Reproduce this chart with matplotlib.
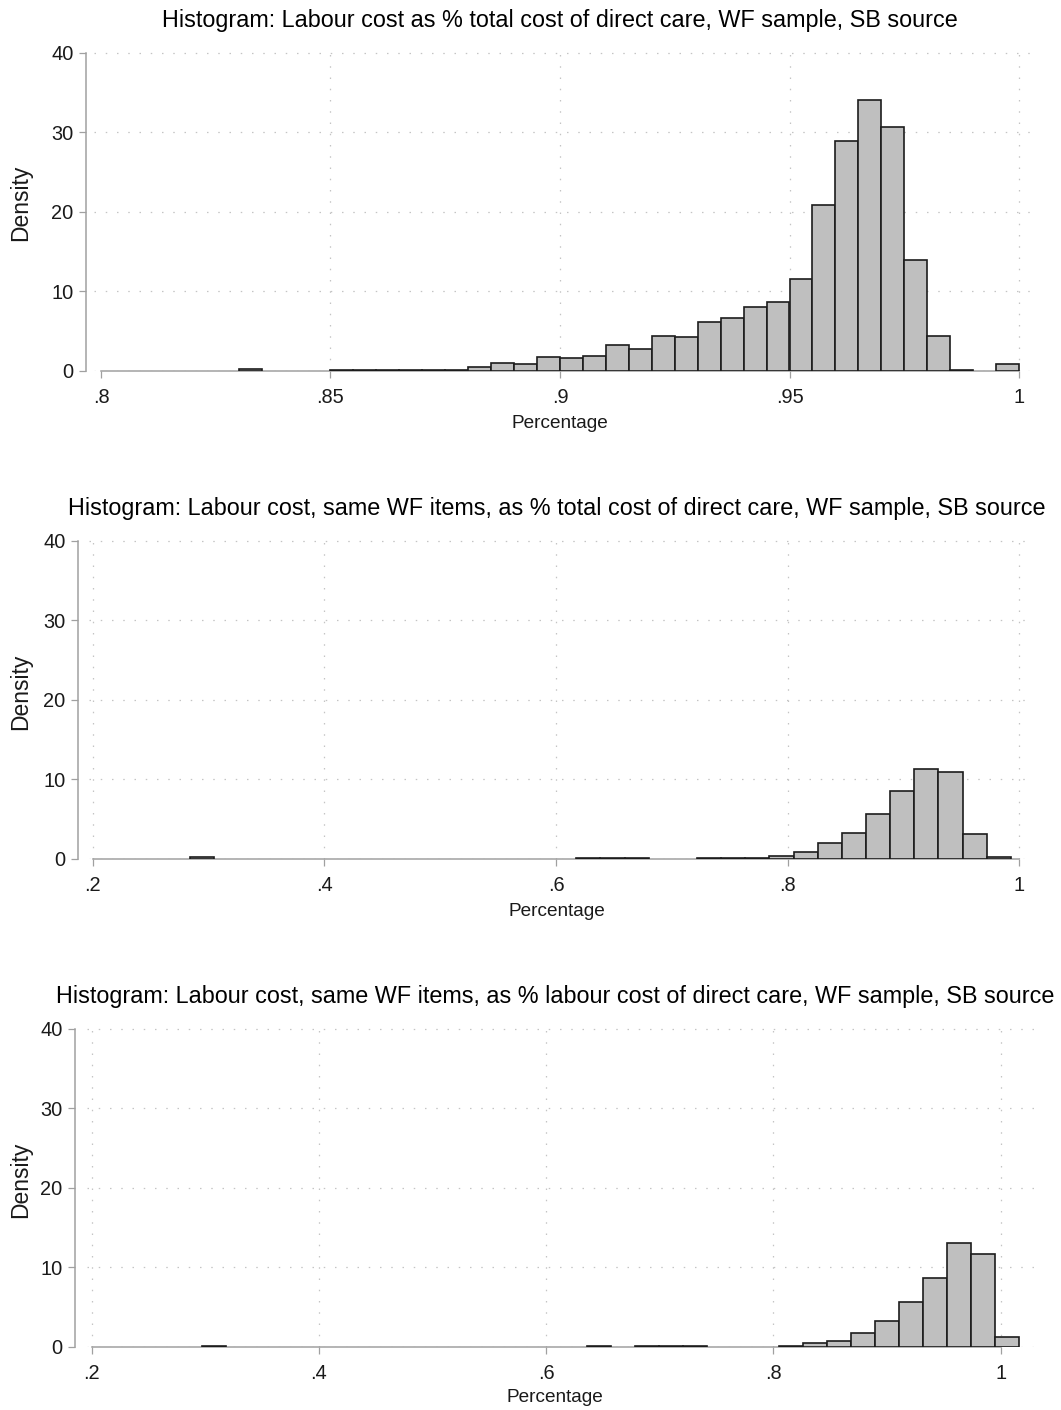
import numpy as np
import matplotlib
matplotlib.use("Agg")
import matplotlib.pyplot as plt

plt.rcParams['font.family'] = ['Liberation Sans', 'DejaVu Sans']

# ---------------------------------------------------------------- data
titles = [
    "Histogram: Labour cost as % total cost of direct care, WF sample, SB source",
    "Histogram: Labour cost, same WF items, as % total cost of direct care, WF sample, SB source",
    "Histogram: Labour cost, same WF items, as % labour cost of direct care, WF sample, SB source",
]
x_title = "Percentage"
y_title = "Density"

# Panel 1: 34 bins of width .005 starting at .83
bin_start_1 = 0.83
bin_width_1 = 0.005
density_1 = [0.15, 0, 0, 0, 0.05, 0.05, 0.05, 0.05, 0.12, 0.12,
             0.42, 0.92, 0.76, 1.68, 1.55, 1.80, 3.19, 2.73, 4.36, 4.24,
             6.08, 6.67, 7.97, 8.64, 11.54, 20.81, 28.87, 34.07, 30.72, 13.97,
             4.36, 0.08, 0, 0.80]

# Panel 2: 34 bins
bin_start_2 = 0.2841
bin_width_2 = 0.02084
density_2 = [0.2, 0, 0, 0, 0, 0, 0, 0, 0, 0,
             0, 0, 0, 0, 0, 0, 0.05, 0.05, 0.05, 0,
             0, 0.05, 0.05, 0.12, 0.30, 0.81, 1.96, 3.19, 5.66, 8.51,
             11.32, 10.94, 3.06, 0.13]

# Panel 3: 34 bins
bin_start_3 = 0.2974
bin_width_3 = 0.02115
density_3 = [0.03, 0, 0, 0, 0, 0, 0, 0, 0, 0,
             0, 0, 0, 0, 0, 0, 0.03, 0, 0.03, 0.03,
             0.03, 0, 0, 0, 0.10, 0.38, 0.72, 1.65, 3.21, 5.65,
             8.65, 13.04, 11.65, 1.14]

xticks_1 = [0.8, 0.85, 0.9, 0.95, 1.0]
xticklabels_1 = [".8", ".85", ".9", ".95", "1"]
xticks_23 = [0.2, 0.4, 0.6, 0.8, 1.0]
xticklabels_23 = [".2", ".4", ".6", ".8", "1"]
yticks = [0, 10, 20, 30, 40]
yticklabels = ["0", "10", "20", "30", "40"]

# ---------------------------------------------------------------- layout (pixels)
W, H = 1061, 1410
panels = [
    dict(start=bin_start_1, width=bin_width_1, dens=density_1,
         xt=xticks_1, xtl=xticklabels_1, grid_first=False,
         xmap=((0.8, 101.0), (1.0, 1019.0)), L=94, R=1035, y0=370.5, y40=53.0, top=45,
         spine=86, title_xy=(560, 21), xlab_xy=(560, 423), ylab_xy=(21, 203)),
    dict(start=bin_start_2, width=bin_width_2, dens=density_2,
         xt=xticks_23, xtl=xticklabels_23, grid_first=True,
         xmap=((0.2, 92.7), (1.0, 1019.3)), L=89, R=1033, y0=858.5, y40=541.0, top=533,
         spine=78, title_xy=(556.5, 509), xlab_xy=(557, 911), ylab_xy=(21, 692)),
    dict(start=bin_start_3, width=bin_width_3, dens=density_3,
         xt=xticks_23, xtl=xticklabels_23, grid_first=True,
         xmap=((0.2, 91.7), (1.0, 1000.7)), L=87, R=1035, y0=1346.5, y40=1029.0, top=1021,
         spine=75, title_xy=(555.5, 997), xlab_xy=(555, 1398), ylab_xy=(21, 1180)),
]

BAR_FILL = "#bfbfbf"
BAR_EDGE = "#1c1c1c"
AXIS_COL = "#a0a0a0"
GRID_COL = "#c4c4c4"
TEXT_COL = "#1a1a1a"

fig = plt.figure(figsize=(W / 100, H / 100), dpi=100)
fig.patch.set_facecolor("white")


def fx(px):
    return px / W


def fy(py):
    return 1 - py / H


for p, title in zip(panels, titles):
    L, R, top, y0, y40 = p["L"], p["R"], p["top"], p["y0"], p["y40"]
    ax = fig.add_axes([fx(L), fy(y0), (R - L) / W, (y0 - top) / H])

    (v1, px1), (v2, px2) = p["xmap"]
    scale = (px2 - px1) / (v2 - v1)
    ax.set_xlim(v1 - (px1 - L) / scale, v1 + (R - px1) / scale)
    ax.set_ylim(0, 40 * (y0 - top) / (y0 - y40))

    dens = np.asarray(p["dens"], dtype=float)
    edges = p["start"] + p["width"] * np.arange(len(dens) + 1)
    keep = dens > 0
    ax.bar(edges[:-1][keep], dens[keep], width=p["width"], align="edge",
           color=BAR_FILL, edgecolor=BAR_EDGE, linewidth=1.2, zorder=3)

    ax.set_xticks(p["xt"])
    ax.set_xticklabels(p["xtl"])
    ax.set_yticks(yticks)
    ax.set_yticklabels(yticklabels)
    ax.tick_params(direction="out", length=5, width=0.9, color=AXIS_COL,
                   labelcolor=TEXT_COL, labelsize=14.4)
    ax.tick_params(axis="x", pad=7.5)
    ax.tick_params(axis="y", pad=4)

    ax.grid(True, color=GRID_COL, linestyle=(0, (1.2, 7.8)), linewidth=0.9)
    ax.set_axisbelow(True)
    if not p["grid_first"]:
        ax.xaxis.get_gridlines()[0].set_visible(False)

    for s in ("top", "right"):
        ax.spines[s].set_visible(False)
    ax.spines["left"].set_position(("outward", (L - p["spine"]) * 0.72))
    ax.spines["left"].set_bounds(0, 40)
    ax.spines["bottom"].set_bounds(p["xt"][0], p["xt"][-1])
    for s in ("left", "bottom"):
        ax.spines[s].set_color(AXIS_COL)
        ax.spines[s].set_linewidth(1.1)
        ax.spines[s].set_zorder(2)

    ax.set_xlabel(x_title, fontsize=13.7, color=TEXT_COL, va="center")
    ax.xaxis.set_label_coords(fx(p["xlab_xy"][0]), fy(p["xlab_xy"][1]),
                              transform=fig.transFigure)
    ax.set_ylabel(y_title, fontsize=16.5, color=TEXT_COL, va="center", ha="center")
    ax.yaxis.set_label_coords(fx(p["ylab_xy"][0]), fy(p["ylab_xy"][1]),
                              transform=fig.transFigure)

    fig.text(fx(p["title_xy"][0]), fy(p["title_xy"][1]), title,
             ha="center", va="center", fontsize=16.8, color="black")

fig.savefig("out.png", dpi=100, facecolor="white")
